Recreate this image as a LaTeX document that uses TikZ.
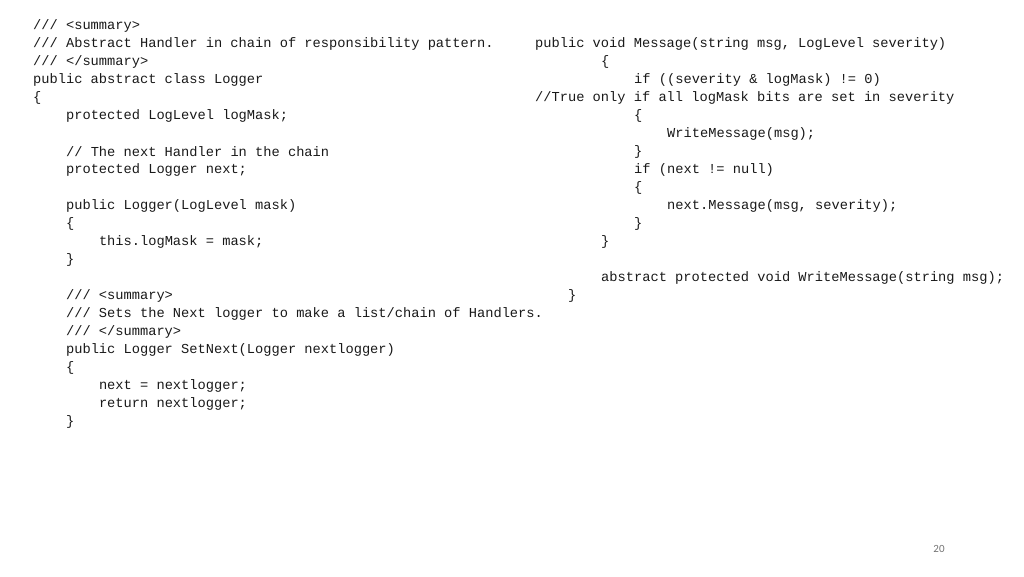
\documentclass[tikz,border=0pt]{standalone}
\usepackage{fontspec}
\setmainfont{Carlito}
\setmonofont{Liberation Mono}
\begin{document}
\begin{tikzpicture}[x=1pt,y=-1pt,
  code/.style={anchor=west,inner sep=0pt,text=black!90,font=\ttfamily\fontsize{13.7}{16}\selectfont}]
\useasboundingbox (0,0) rectangle (1024,576);
\def\cw{8.23}
% left column
\node[code] (a1) at (33,26) {/// <summary>};
\node[code] (a2) at (33,44) {/// Abstract Handler in chain of responsibility pattern.};
\node[code] (a3) at (33,62) {/// </summary>};
\node[code] (a4) at (33,80) {public abstract class Logger};
\node[code] (a5) at (33,98) {\{};
\node[code] (a6) at (65.9,116) {protected LogLevel logMask;};
\node[code] (a7) at (65.9,152) {// The next Handler in the chain};
\node[code] (a8) at (65.9,170) {protected Logger next;};
\node[code] (a9) at (65.9,206) {public Logger(LogLevel mask)};
\node[code] (a10) at (65.9,224) {\{};
\node[code] (a11) at (98.8,242) {this.logMask = mask;};
\node[code] (a12) at (65.9,260) {\}};
\node[code] (a13) at (65.9,296) {/// <summary>};
\node[code] (a14) at (65.9,314) {/// Sets the Next logger to make a list/chain of Handlers.};
\node[code] (a15) at (65.9,332) {/// </summary>};
\node[code] (a16) at (65.9,350) {public Logger SetNext(Logger nextlogger)};
\node[code] (a17) at (65.9,368) {\{};
\node[code] (a18) at (98.8,386) {next = nextlogger;};
\node[code] (a19) at (98.8,404) {return nextlogger;};
\node[code] (a20) at (65.9,422) {\}};
% right column
\node[code] (b1) at (535,44) {public void Message(string msg, LogLevel severity)};
\node[code] (b2) at (601,62) {\{};
\node[code] (b3) at (634,80) {if ((severity \& logMask) != 0)};
\node[code] (b4) at (535,98) {//True only if all logMask bits are set in severity};
\node[code] (b5) at (634,116) {\{};
\node[code] (b6) at (667,134) {WriteMessage(msg);};
\node[code] (b7) at (634,152) {\}};
\node[code] (b8) at (634,170) {if (next != null)};
\node[code] (b9) at (634,188) {\{};
\node[code] (b10) at (667,206) {next.Message(msg, severity);};
\node[code] (b11) at (634,224) {\}};
\node[code] (b12) at (601,242) {\}};
\node[code] (b13) at (601,278) {abstract protected void WriteMessage(string msg);};
\node[code] (b14) at (568,296) {\}};
\node[inner sep=0pt,text=black!55,font=\fontsize{11}{13}\selectfont] (pg) at (939,549) {20};
\end{tikzpicture}
\end{document}
